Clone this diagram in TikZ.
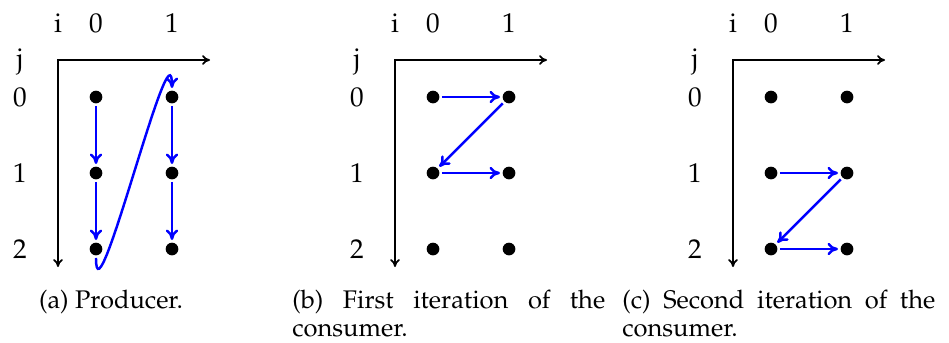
\documentclass[tikz,border=0pt]{standalone}
\usepackage[T1]{fontenc}
\usepackage{mathpazo}
\usetikzlibrary{positioning,arrows.meta}
\hyphenpenalty=10000

\begin{document}
\begin{tikzpicture}[x=0.02cm,y=-0.02cm,
    font=\fontsize{15.5pt}{17pt}\selectfont,
    dot/.style={circle,fill=black,inner sep=0pt,minimum size=0.254cm,outer sep=1.5pt},
    flow/.style={-{To[length=6pt,width=7pt]},blue,line width=1.4pt},
    axis/.style={{To[length=4.5pt,width=5.5pt]}-{To[length=4.5pt,width=5.5pt]},line width=1pt},
    lbl/.style={anchor=base,inner sep=0pt},
    capt/.style={anchor=base west,inner sep=0pt,text width=6.26cm,align=justify,
      font=\fontsize{14.5pt}{16.5pt}\selectfont}]
  \useasboundingbox (0,0) rectangle (949,342);
  \foreach \p/\ox in {a/0,b/337,c/675}{
    \begin{scope}[xshift=\ox*0.02cm]
      \coordinate (\p-o) at (58,60);
      \coordinate (\p-x) at (210,60);
      \coordinate (\p-y) at (58,267);
      \draw[axis] (\p-x) -- (\p-o) -- (\p-y);
      \node[lbl] (\p-i) at (58,32.5) {i};
      \node[lbl] (\p-j) at (20,67) {j};
      \foreach \i/\x in {0/96,1/172}
        \node[lbl] (\p-i\i) at (\x,32.5) {\i};
      \foreach \j/\y in {0/97,1/173,2/249}
        \node[inner sep=0pt] (\p-j\j) at (20,\y) {\j};
      \foreach \i/\x in {0/96,1/172}
        \foreach \j/\y in {0/97,1/173,2/249}
          \node[dot] (\p-\i\j) at (\x,\y) {};
    \end{scope}
  }
  % producer
  \draw[flow] (a-00) -- (a-01);
  \draw[flow] (a-01) -- (a-02);
  \draw[flow] (a-02) to[out=-90,in=90] (a-10);
  \draw[flow] (a-10) -- (a-11);
  \draw[flow] (a-11) -- (a-12);
  % consumer
  \draw[flow] (b-00) -- (b-10);
  \draw[flow] (b-10) -- (b-01);
  \draw[flow] (b-01) -- (b-11);
  \draw[flow] (c-01) -- (c-11);
  \draw[flow] (c-11) -- (c-02);
  \draw[flow] (c-02) -- (c-12);
  \node[lbl,font=\fontsize{14.5pt}{16.5pt}\selectfont] (a-cap) at (111,308) {(a) Producer.};
  \node[capt] (b-cap) at (292,308) {(b) First iteration of the consumer.};
  \node[capt] (c-cap) at (622,308) {(c) Second iteration of the consumer.};
\end{tikzpicture}
\end{document}
